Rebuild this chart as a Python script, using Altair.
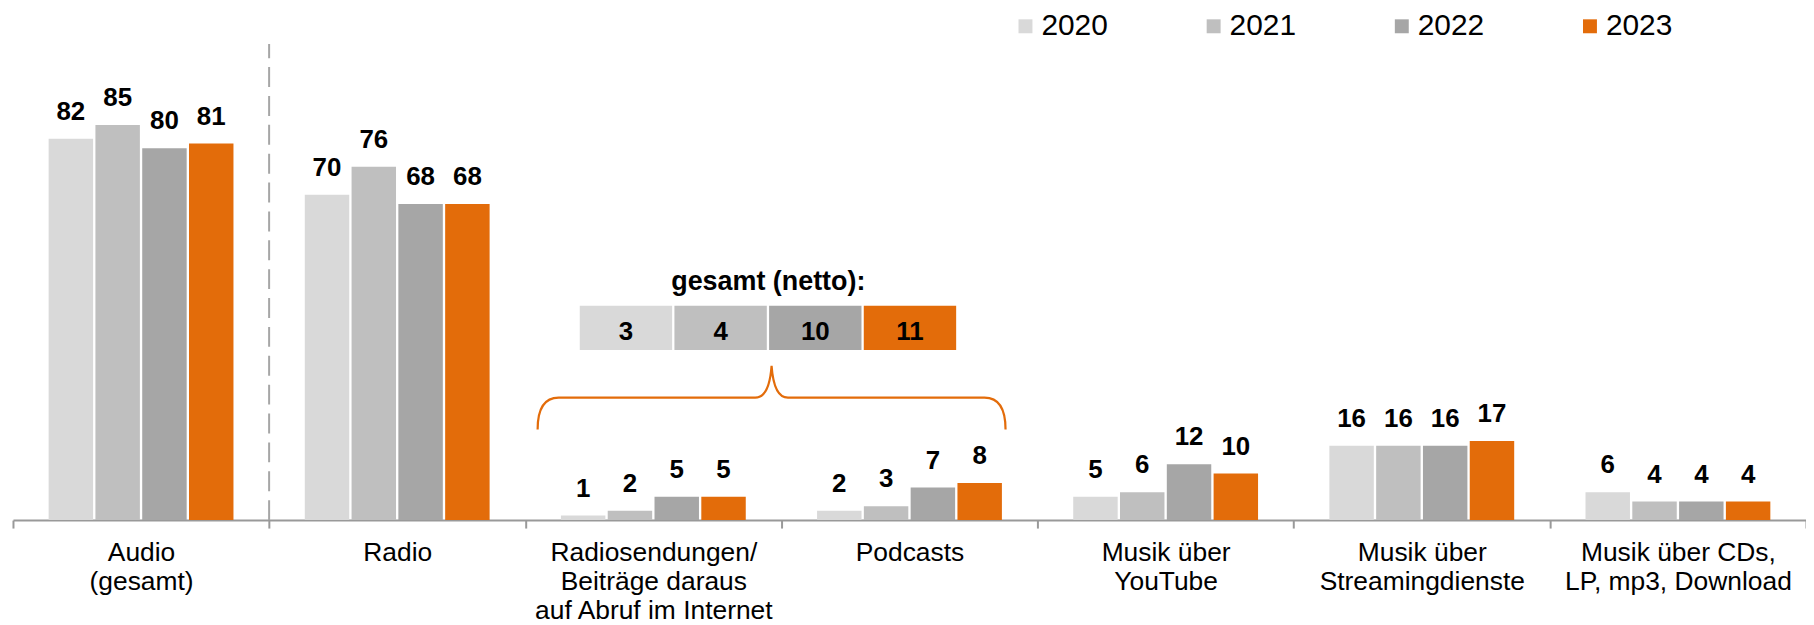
import altair as alt
import pandas as pd

FONT = "Liberation Sans"

categories = [
    "Audio|(gesamt)",
    "Radio",
    "Radiosendungen/|Beiträge daraus|auf Abruf im Internet",
    "Podcasts",
    "Musik über|YouTube",
    "Musik über|Streamingdienste",
    "Musik über CDs,|LP, mp3, Download",
]
years = ["2020", "2021", "2022", "2023"]
v2020 = [82, 70, 1, 2, 5, 16, 6]
v2021 = [85, 76, 2, 3, 6, 16, 4]
v2022 = [80, 68, 5, 7, 12, 16, 4]
v2023 = [81, 68, 5, 8, 10, 17, 4]
netto = [3, 4, 10, 11]
netto_title = "gesamt (netto):"
colors = ["#d9d9d9", "#bfbfbf", "#a6a6a6", "#e36c0a"]
ORANGE = "#e36c0a"

rows = []
for yr, vals in zip(years, [v2020, v2021, v2022, v2023]):
    for c, v in zip(categories, vals):
        rows.append({"cat": c, "year": yr, "value": v})
df = pd.DataFrame(rows)

# annotation layout (group units on x, value units on y)
box_x0, box_w, box_gap = 2.2127, 0.3696, 0.0089
ndf = pd.DataFrame({
    "year": years,
    "netto": netto,
    "gx": [box_x0 + i * box_w for i in range(4)],
    "gx2": [box_x0 + (i + 1) * box_w - box_gap for i in range(4)],
    "gxc": [box_x0 + (i + 0.5) * box_w - box_gap / 2 for i in range(4)],
})

yscale = alt.Scale(domain=[0, 100])
gscale = alt.Scale(domain=[0, 7], nice=False, zero=False)

axis_spec = alt.Axis(
    title=None, labelExpr="split(datum.label, '|')", tickBand="extent",
    labelAngle=0, domainColor="#999999", domainWidth=2, tickColor="#999999",
    tickWidth=2, tickSize=8, labelFontSize=26.5, labelLineHeight=29,
    labelPadding=12, labelColor="black", labelFont=FONT, labelLimit=400,
    labelOverlap=False, labelFlush=False, grid=False,
)
xenc = alt.X("cat:N", sort=categories,
             scale=alt.Scale(paddingInner=0, paddingOuter=0), axis=axis_spec)
xoff = alt.XOffset("year:N", sort=years,
                   scale=alt.Scale(paddingInner=0.05, paddingOuter=0.762))

bars = alt.Chart(df).mark_bar().encode(
    x=xenc,
    xOffset=xoff,
    y=alt.Y("value:Q", scale=yscale, axis=None),
    color=alt.Color(
        "year:N", sort=years, scale=alt.Scale(domain=years, range=colors),
        legend=alt.Legend(
            title=None, orient="none", legendX=1002, legendY=-44,
            direction="horizontal", columns=4, columnPadding=91,
            symbolType="square", symbolSize=196, symbolStrokeWidth=0,
            labelFontSize=30, labelFont=FONT, labelColor="black", labelOffset=1,
        ),
    ),
)
labels = alt.Chart(df).mark_text(
    dy=-19, baseline="alphabetic", fontSize=26, fontWeight="bold",
    font=FONT, color="black",
).encode(
    x=xenc,
    xOffset=xoff,
    y=alt.Y("value:Q", scale=yscale, axis=None),
    text="value:Q",
)
main = alt.layer(bars, labels)

dash = alt.Chart(pd.DataFrame({"gx": [1.0], "y0": [0], "y1": [102.4]})).mark_rule(
    color="#a6a6a6", strokeWidth=2, strokeDash=[20, 9]
).encode(
    x=alt.X("gx:Q", scale=gscale, axis=None),
    y=alt.Y("y0:Q", scale=yscale, axis=None),
    y2="y1:Q",
)

boxes = alt.Chart(ndf).transform_calculate(yb=str(36.6), yt=str(46.1)).mark_rect().encode(
    x=alt.X("gx:Q", scale=gscale, axis=None),
    x2="gx2:Q",
    y=alt.Y("yb:Q", scale=yscale, axis=None),
    y2="yt:Q",
    color=alt.Color("year:N", sort=years, scale=alt.Scale(domain=years, range=colors), legend=None),
)
boxtext = alt.Chart(ndf).transform_calculate(yc=str(40.5)).mark_text(
    baseline="middle", fontSize=26, fontWeight="bold", font=FONT, color="black"
).encode(
    x=alt.X("gxc:Q", scale=gscale, axis=None),
    y=alt.Y("yc:Q", scale=yscale, axis=None),
    text="netto:Q",
)
ttl = alt.Chart(pd.DataFrame({"t": [netto_title], "gx": [2.9488], "y": [49.46]})).mark_text(
    baseline="alphabetic", fontSize=27, fontWeight="bold", font=FONT, color="black"
).encode(
    x=alt.X("gx:Q", scale=gscale, axis=None),
    y=alt.Y("y:Q", scale=yscale, axis=None),
    text="t:N",
)
BRACE = ("M -1 0.136 Q -1 0 -0.91 0 L -0.07 0 Q -0.01 0 0 -0.136 "
         "Q 0.01 0 0.07 0 L 0.91 0 Q 1 0 1 0.136")
brace = alt.Chart(pd.DataFrame({"gx": [2.9616], "y": [26.34]})).mark_point(
    shape=BRACE, filled=False, stroke=ORANGE, strokeWidth=2.2, size=470 * 470, opacity=1
).encode(
    x=alt.X("gx:Q", scale=gscale, axis=None),
    y=alt.Y("y:Q", scale=yscale, axis=None),
)
annot = alt.layer(dash, boxes, boxtext, ttl, brace)

chart = alt.layer(main, annot).resolve_scale(x="independent").properties(
    width=1801, height=467,
    padding={"left": 5, "top": 46, "right": 0, "bottom": 104},
    autosize=alt.AutoSizeParams(type="none"),
).configure_view(stroke=None)

chart.save("out.html", embed_options={"renderer": "svg", "actions": False})
